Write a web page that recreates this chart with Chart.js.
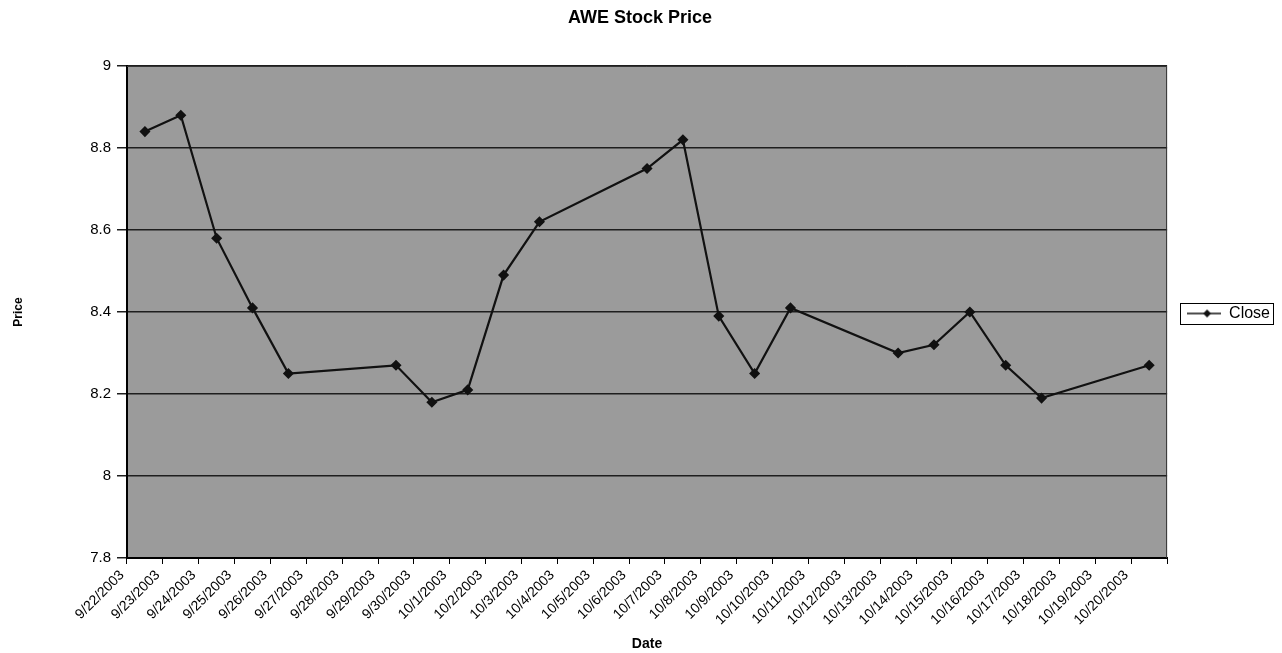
<!DOCTYPE html>
<html>
<head>
<meta charset="utf-8">
<title>AWE Stock Price</title>
<script src="https://cdn.jsdelivr.net/npm/chart.js@4.4.1/dist/chart.umd.min.js"></script>
<style>
  html, body { margin: 0; padding: 0; background: #fff; }
  #wrap { position: relative; width: 1282px; height: 653px; }
</style>
</head>
<body>
<div id="wrap"><canvas id="chart"></canvas></div>
<script>
// every calendar day on the axis, trading days carry a close
const dates = [
  '9/22/2003', '9/23/2003', '9/24/2003', '9/25/2003', '9/26/2003', '9/27/2003', '9/28/2003',
  '9/29/2003', '9/30/2003', '10/1/2003', '10/2/2003', '10/3/2003', '10/4/2003', '10/5/2003',
  '10/6/2003', '10/7/2003', '10/8/2003', '10/9/2003', '10/10/2003', '10/11/2003', '10/12/2003',
  '10/13/2003', '10/14/2003', '10/15/2003', '10/16/2003', '10/17/2003', '10/18/2003', '10/19/2003',
  '10/20/2003'
];
const closePrices = [
  8.84, 8.88, 8.58, 8.41, 8.25, null, null,
  8.27, 8.18, 8.21, 8.49, 8.62, null, null,
  8.75, 8.82, 8.39, 8.25, 8.41, null, null,
  8.30, 8.32, 8.40, 8.27, 8.19, null, null,
  8.27
];
const priceTicks = [7.8, 8, 8.2, 8.4, 8.6, 8.8, 9];

const FONT = "Arial, 'Liberation Sans', sans-serif";
const INK = '#111';

// legend swatch: short line with a diamond on it, like the Excel key
function legendSwatch() {
  const c = document.createElement('canvas');
  c.width = 34; c.height = 10;
  const g = c.getContext('2d');
  g.strokeStyle = INK; g.lineWidth = 1.5;
  g.beginPath(); g.moveTo(0, 5); g.lineTo(34, 5); g.stroke();
  g.fillStyle = INK;
  g.beginPath(); g.moveTo(20, 1); g.lineTo(24, 5); g.lineTo(20, 9); g.lineTo(16, 5); g.closePath(); g.fill();
  return c;
}

// gray plot area + frame, and the box round the legend
const plotFrame = {
  id: 'plotFrame',
  afterLayout(chart) {
    // the key sits a little above the middle of the plot
    if (chart.legend) { chart.legend.top -= 13; chart.legend.bottom -= 13; }
  },
  beforeDraw(chart) {
    const { ctx, chartArea: a } = chart;
    ctx.save();
    ctx.fillStyle = '#9b9b9b';
    ctx.fillRect(a.left, a.top, a.right - a.left, a.bottom - a.top);
    ctx.restore();
  },
  afterDraw(chart) {
    const { ctx, chartArea: a } = chart;
    ctx.save();
    ctx.strokeStyle = '#333';
    ctx.lineWidth = 1;
    ctx.beginPath();
    ctx.moveTo(a.left, a.top + 0.5); ctx.lineTo(a.right - 0.5, a.top + 0.5); ctx.lineTo(a.right - 0.5, a.bottom);
    ctx.stroke();
    const hb = chart.legend && chart.legend.legendHitBoxes[0];
    if (hb) {
      ctx.strokeStyle = '#000';
      ctx.lineWidth = 1;
      ctx.strokeRect(Math.round(hb.left - 7) + 0.5, Math.round(hb.top + hb.height / 2 - 10.5) + 0.5,
        Math.round(hb.width + 10), 21);
    }
    ctx.restore();
  }
};

new Chart(document.getElementById('chart'), {
  type: 'line',
  data: {
    labels: dates,
    datasets: [{
      label: 'Close',
      data: closePrices,
      spanGaps: true,
      borderColor: INK,
      borderWidth: 2.2,
      backgroundColor: INK,
      pointStyle: 'rectRot',
      pointRadius: 4,
      pointBackgroundColor: INK,
      pointBorderColor: INK,
      tension: 0
    }]
  },
  options: {
    responsive: true,
    maintainAspectRatio: false,
    animation: false,
    layout: { padding: { left: 0, right: 2, top: 0, bottom: 0 } },
    plugins: {
      title: {
        display: true,
        text: 'AWE Stock Price',
        color: '#000',
        font: { family: FONT, size: 18, weight: 'bold' },
        padding: { top: 7, bottom: 37.4 }
      },
      legend: {
        display: true,
        position: 'right',
        labels: {
          usePointStyle: true,
          pointStyle: legendSwatch(),
          pointStyleWidth: 34,
          padding: 20,
          color: '#000',
          font: { family: FONT, size: 16 }
        }
      },
      tooltip: { enabled: false }
    },
    scales: {
      x: {
        type: 'category',
        offset: true,
        afterFit: (s) => { s.height = 95; },
        grid: { display: true, drawOnChartArea: false, drawTicks: true, tickLength: 6, offset: true, color: '#000' },
        border: { display: true, color: '#000', width: 2 },
        ticks: {
          autoSkip: false,
          maxRotation: 45,
          minRotation: 45,
          labelOffset: -23,
          padding: 3,
          color: '#000',
          font: { family: FONT, size: 14 }
        },
        title: {
          display: true,
          text: 'Date',
          color: '#000',
          font: { family: FONT, size: 14, weight: 'bold' },
          padding: { top: 0, bottom: 0 }
        }
      },
      y: {
        min: 7.8,
        max: 9,
        afterFit: (s) => { s.width = 127; },
        afterBuildTicks: (s) => { s.ticks = priceTicks.map(v => ({ value: v })); },
        grid: { color: '#1e1e1e', lineWidth: 1.5, drawTicks: true, tickLength: 10 },
        border: { display: true, color: '#000', width: 2 },
        ticks: {
          padding: 6,
          color: '#000',
          font: { family: FONT, size: 15 },
          callback: (v) => String(v)
        },
        title: {
          display: true,
          text: 'Price',
          color: '#000',
          font: { family: FONT, size: 12, weight: 'bold' },
          padding: { top: 11, bottom: 0 }
        }
      }
    }
  },
  plugins: [plotFrame]
});
</script>
</body>
</html>
